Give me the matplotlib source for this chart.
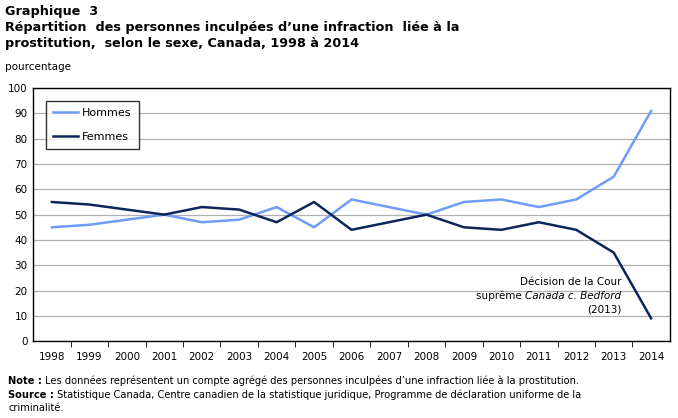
import numpy as np
import matplotlib.pyplot as plt

annees = [str(a) for a in range(1998, 2015)]
hommes = [45, 46, 48, 50, 47, 48, 53, 45, 56, 53, 50, 55, 56, 53, 56, 65, 91]
femmes = [55, 54, 52, 50, 53, 52, 47, 55, 44, 47, 50, 45, 44, 47, 44, 35, 9]

plt.rcParams['font.family'] = ['DejaVu Sans']

fig = plt.figure(figsize=(6.78, 4.18), dpi=100)
ax = fig.add_axes([0.049, 0.184, 0.939, 0.605])

x = np.arange(len(annees))
ax.plot(x, hommes, color='#6f9cf7', lw=1.8, label='Hommes')
ax.plot(x, femmes, color='#0c2659', lw=1.8, label='Femmes')

ax.set_xlim(-0.5, len(annees) - 0.5)
ax.set_ylim(0, 100)
ax.set_yticks(range(0, 101, 10))
ax.yaxis.grid(True, color='#b0b0b0', lw=0.9)
ax.set_axisbelow(True)
ax.tick_params(axis='y', length=0, labelsize=7.5, pad=4)

# graduations entre les catégories
ax.set_xticks(x)
ax.set_xticklabels(annees, fontsize=7.5)
ax.tick_params(axis='x', which='major', length=0, pad=8)
ax.set_xticks(np.arange(0.5, len(annees) - 1, 1), minor=True)
ax.tick_params(axis='x', which='minor', length=4, direction='out')

for s in ax.spines.values():
    s.set_color('black')
    s.set_linewidth(1)

leg = ax.legend(loc='upper left', bbox_to_anchor=(0.02, 0.949), fontsize=8,
                frameon=True, fancybox=False, edgecolor='black',
                handlelength=2.2, handletextpad=0.4, labelspacing=1.25,
                borderpad=0.65, borderaxespad=0)
leg.get_frame().set_linewidth(1)

# annotation Bedford
ax.text(15.2, 23.5, 'Décision de la Cour', ha='right', va='center', fontsize=7.5)
t1 = ax.text(15.2, 18.0, 'Canada c. Bedford', ha='right', va='center', fontsize=7.5, style='italic')
ax.annotate('suprême ', xy=(0, 0.5), xycoords=t1, ha='right', va='center', fontsize=7.5)
ax.text(15.2, 12.5, '(2013)', ha='right', va='center', fontsize=7.5)

fig.text(0.008, 0.972, 'Graphique  3', fontsize=9.2, fontweight='bold', va='center')
fig.text(0.008, 0.934, 'Répartition  des personnes inculpées d’une infraction  liée à la',
         fontsize=9.2, fontweight='bold', va='center')
fig.text(0.008, 0.895, 'prostitution,  selon le sexe, Canada, 1998 à 2014',
         fontsize=9.2, fontweight='bold', va='center')
fig.text(0.008, 0.84, 'pourcentage', fontsize=7.5, va='center')

n1 = fig.text(0.012, 0.088, 'Note :', fontsize=7.1, fontweight='bold', va='center')
ax.annotate(' Les données représentent un compte agrégé des personnes inculpées d’une infraction liée à la prostitution.',
            xy=(1, 0.5), xycoords=n1, va='center', fontsize=7.1, annotation_clip=False)
n2 = fig.text(0.012, 0.056, 'Source :', fontsize=7.1, fontweight='bold', va='center')
ax.annotate(' Statistique Canada, Centre canadien de la statistique juridique, Programme de déclaration uniforme de la',
            xy=(1, 0.5), xycoords=n2, va='center', fontsize=7.1, annotation_clip=False)
fig.text(0.012, 0.024, 'criminalité.', fontsize=7.1, va='center')

fig.savefig('out.png', dpi=100)
